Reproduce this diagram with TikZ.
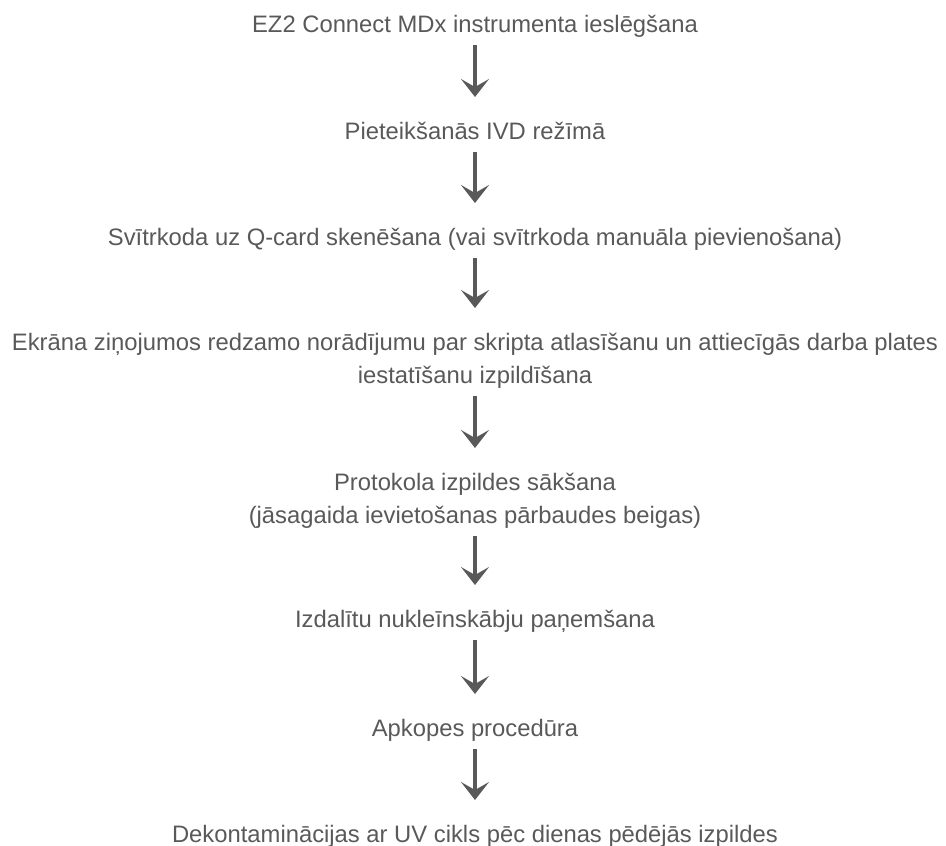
\documentclass[tikz,border=0pt]{standalone}
\usepackage{fontspec}
\setmainfont{Liberation Sans}
\usetikzlibrary{arrows.meta}
\definecolor{flowgray}{HTML}{595959}
\newcommand\ax{475}

\begin{document}
\begin{tikzpicture}[x=1pt, y=-1pt,
    steptext/.style={anchor=north, align=center, inner sep=0pt, text=flowgray,
        font=\fontsize{23.8}{33}\selectfont, text height=17pt, text depth=5pt},
    twolines/.style={text height=50pt},
    flowarrow/.style={draw=flowgray, line width=3.5pt,
        -{Stealth[length=18pt, width=28pt, inset=8pt]},
        shorten <=8pt, shorten >=25pt}]
\useasboundingbox (0, 0) rectangle (946, 846);

% steps
\node at (\ax, 15) [steptext] (t1) {EZ2 Connect MDx instrumenta ieslēgšana};
\node at (\ax, 122) [steptext] (t2) {Pieteikšanās IVD režīmā};
\node at (\ax, 228) [steptext] (t3) {Svītrkoda uz Q-card skenēšana (vai svītrkoda manuāla pievienošana)};
\node at (\ax, 333) [steptext, twolines] (t4) {Ekrāna ziņojumos redzamo norādījumu par skripta atlasīšanu un attiecīgās darba plates\\ iestatīšanu izpildīšana};
\node at (\ax, 473) [steptext, twolines] (t5) {Protokola izpildes sākšana\\ (jāsagaida ievietošanas pārbaudes beigas)};
\node at (\ax, 610) [steptext] (t6) {Izdalītu nukleīnskābju paņemšana};
\node at (\ax, 719) [steptext] (t7) {Apkopes procedūra};
\node at (\ax, 825) [steptext] (t8) {Dekontaminācijas ar UV cikls pēc dienas pēdējās izpildes};

% arrows between steps
\foreach \a/\b in {t1/t2, t2/t3, t3/t4, t4/t5, t5/t6, t6/t7, t7/t8}
    \draw [flowarrow] (\a.south) -- (\b.north);
\end{tikzpicture}
\end{document}
